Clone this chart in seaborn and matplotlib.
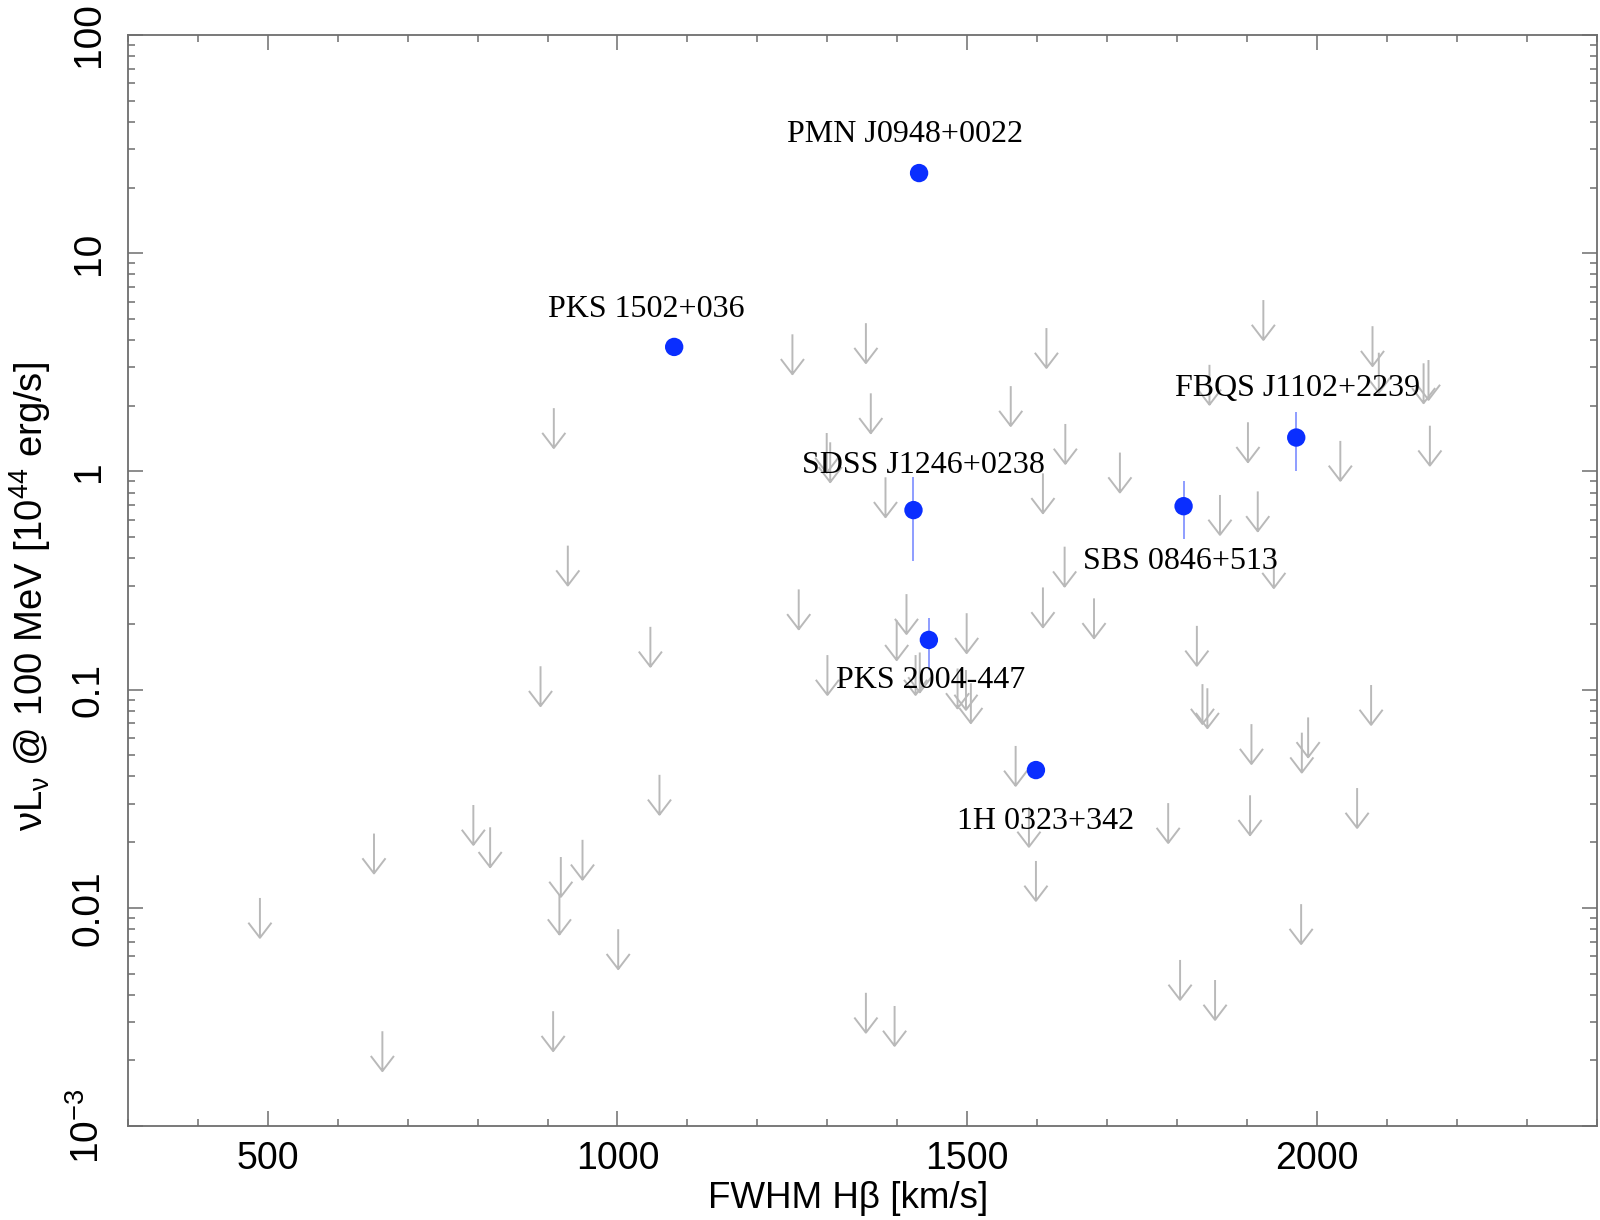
import numpy as np
import pandas as pd
import matplotlib
matplotlib.use("Agg")
import matplotlib.pyplot as plt
from matplotlib.path import Path
from matplotlib.markers import MarkerStyle
from matplotlib.ticker import FixedLocator, MultipleLocator, LogLocator, NullFormatter
import seaborn as sns

# gamma-ray detected NLS1 (FWHM Hbeta, nuLnu @100 MeV in 1e44 erg/s)
det_names = ["PMN J0948+0022", "PKS 1502+036", "SDSS J1246+0238", "SBS 0846+513",
             "FBQS J1102+2239", "PKS 2004-447", "1H 0323+342"]
det_fwhm = [1431, 1081, 1423, 1809, 1970, 1445, 1598]
det_lum = [23.3, 3.72, 0.665, 0.693, 1.43, 0.169, 0.0428]
det_lum_hi = [np.nan, np.nan, 0.94, 0.903, 1.87, 0.212, np.nan]
det_lum_lo = [np.nan, np.nan, 0.39, 0.489, 1.0, 0.123, np.nan]

# upper limits
ul_fwhm = [909, 929, 890, 1250, 1355, 1613, 1362, 1562, 1299, 1304,
           1383, 1608, 1259, 1413, 1608, 1047, 1399, 1499, 1300, 1426,
           1432, 1486, 1498, 1505, 1923, 2079, 2088, 2152, 2159, 2161,
           1846, 1640, 1901, 2033, 1718, 1861, 1915, 1639, 1938, 1681,
           1828, 1060, 1569, 1588, 1598, 1355, 1396, 794, 818, 652,
           950, 919, 917, 489, 1001, 908, 664, 1836, 1843, 2077,
           1906, 1987, 1978, 1787, 1904, 2057, 1977, 1804, 1854]
ul_lum = [1.95, 0.457, 0.128, 4.25, 4.78, 4.54, 2.28, 2.46, 1.50, 1.36,
          0.94, 0.98, 0.288, 0.274, 0.294, 0.194, 0.208, 0.224, 0.144, 0.144,
          0.148, 0.125, 0.123, 0.107, 6.1, 4.63, 3.50, 3.13, 3.24, 1.62,
          3.08, 1.65, 1.68, 1.38, 1.22, 0.78, 0.81, 0.452, 0.445, 0.262,
          0.196, 0.0407, 0.0552, 0.0290, 0.0164, 0.00408, 0.00355, 0.0296, 0.0234, 0.0219,
          0.0205, 0.0171, 0.0115, 0.0111, 0.00798, 0.00336, 0.00272, 0.106, 0.1015, 0.105,
          0.0695, 0.0746, 0.0635, 0.0302, 0.0328, 0.0354, 0.0104, 0.00577, 0.00467]

y_ticks = [1e-3, 1e-2, 1e-1, 1, 10, 100]
y_ticklabels = ["10$^{-3}$", "0.01", "0.1", "1", "10", "100"]
x_ticks = [500, 1000, 1500, 2000]

det = pd.DataFrame({"name": det_names, "fwhm": det_fwhm, "lum": det_lum,
                    "hi": det_lum_hi, "lo": det_lum_lo})
ul = pd.DataFrame({"fwhm": ul_fwhm, "lum": ul_lum})

sns.set_style("ticks")
plt.rcParams['font.family'] = ['Liberation Sans', 'DejaVu Sans']
plt.rcParams['mathtext.default'] = 'regular'
plt.rcParams['text.color'] = 'black'
plt.rcParams['axes.labelcolor'] = 'black'
plt.rcParams['xtick.labelcolor'] = 'black'
plt.rcParams['ytick.labelcolor'] = 'black'

axis_grey = '#6e6e6e'

fig = plt.figure(figsize=(16, 12.2), dpi=100)
ax = fig.add_axes([0.0798, 0.0770, 0.9184, 0.8943])

# downward arrow marker, the limit value sits at the top of the shaft
arrow = Path([(0, 0), (0, -1), (-0.29, -0.62), (0, -1), (0.29, -0.62)],
             [Path.MOVETO, Path.LINETO, Path.MOVETO, Path.LINETO, Path.LINETO])

sns.scatterplot(data=ul, x="fwhm", y="lum", marker=MarkerStyle(arrow), s=3300,
                color='#b9b9b9', facecolor='none', edgecolor='#b9b9b9',
                linewidth=1.4, legend=False, ax=ax, zorder=2)

err = det.dropna()
ax.vlines(err["fwhm"], err["lo"], err["hi"], colors='#8e9dff', lw=1.4, zorder=3)
sns.scatterplot(data=det, x="fwhm", y="lum", color='#0a2eff', s=175,
                edgecolor='none', linewidth=0, legend=False, ax=ax, zorder=4)

# label offsets in points
offsets = {"PMN J0948+0022": (-10, 28), "PKS 1502+036": (-20, 27),
           "SDSS J1246+0238": (7, 32), "SBS 0846+513": (-2, -40),
           "FBQS J1102+2239": (1, 35), "PKS 2004-447": (1, -29),
           "1H 0323+342": (7, -37)}
for _, row in det.iterrows():
    ax.annotate(row["name"], (row["fwhm"], row["lum"]), xytext=offsets[row["name"]],
                textcoords='offset points', ha='center', va='center', color='black',
                fontsize=23, family=['Liberation Serif', 'DejaVu Serif'], zorder=5)

ax.set_yscale('log')
ax.set_xlim(300, 2400)
ax.set_ylim(1e-3, 100)
ax.xaxis.set_major_locator(FixedLocator(x_ticks))
ax.xaxis.set_minor_locator(MultipleLocator(100))
ax.set_yticks(y_ticks)
ax.set_yticklabels(y_ticklabels, rotation=90, va='center')
ax.yaxis.set_minor_locator(LogLocator(base=10, subs=np.arange(2, 10)))
ax.yaxis.set_minor_formatter(NullFormatter())

ax.tick_params(which='both', direction='in', top=True, right=True,
               color=axis_grey, width=1.1)
ax.tick_params(which='major', length=11)
ax.tick_params(which='minor', length=5)
ax.tick_params(axis='x', labelsize=27, pad=11)
ax.tick_params(axis='y', labelsize=28, pad=15)
for sp in ax.spines.values():
    sp.set_color(axis_grey)
    sp.set_linewidth(1.3)

ax.set_xlabel("FWHM H\u03b2 [km/s]", fontsize=26.5)
ax.set_ylabel("\u03bdL$_{\u03bd}$ @ 100 MeV [10$^{44}$ erg/s]", fontsize=27.5)
ax.xaxis.set_label_coords(0.49, -0.05)
ax.yaxis.set_label_coords(-0.051, 0.485)

fig.savefig("out.png", dpi=100)
